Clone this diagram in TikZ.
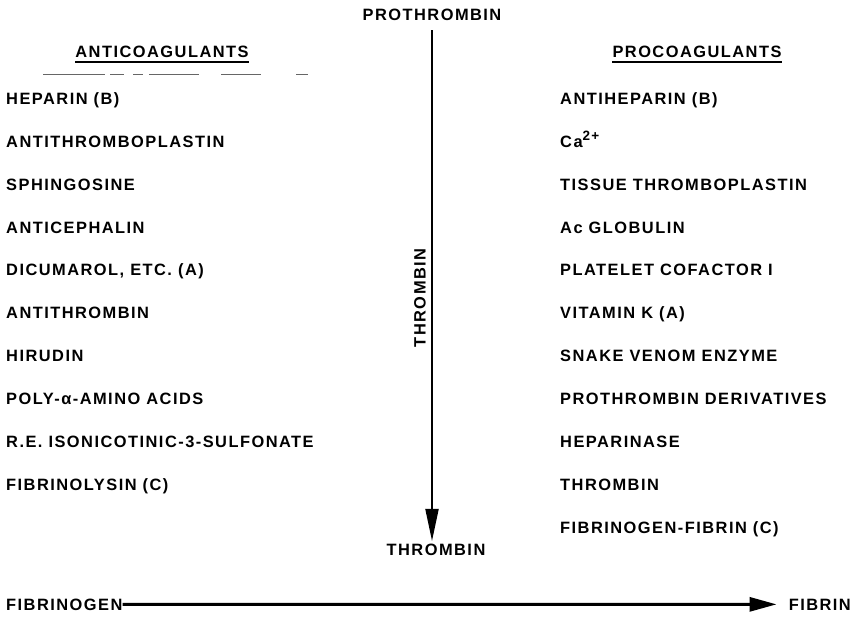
\documentclass[tikz,border=0pt]{standalone}
\usepackage{fontspec}
\usetikzlibrary{arrows.meta, positioning, calc}
\newfontfamily\letterface[LetterSpace=9]{Liberation Sans Bold}
\newcommand{\lettering}{\letterface\fontsize{16.4pt}{18pt}\selectfont}
\newcommand{\ionsup}[1]{\raisebox{6.5pt}{\fontsize{13.5pt}{13.5pt}\selectfont #1}}
\tikzset{
  agent/.style={anchor=base west, inner sep=0pt, font=\lettering},
  heading/.style={inner sep=0pt, font=\lettering},
  flowdown/.style={-{Triangle[length=32pt, width=13pt]}, line width=1.9pt},
  flowright/.style={-{Triangle[length=27pt, width=14pt]}, line width=3pt},
  underline/.style={line width=1.6pt},
}
\begin{document}
\begin{tikzpicture}[x=1pt, y=-1pt]
\useasboundingbox (0,0) rectangle (853,617);
% column headings
\node[heading] (antihd) at (162,52) {ANTICOAGULANTS};
\draw[underline] ([yshift=-4pt]antihd.south west) -- ([yshift=-4pt]antihd.south east);
\draw[black!60, line width=0.9pt, dash pattern=on 62pt off 5pt on 14pt off 9pt on 10pt off 6pt on 50pt off 22pt on 40pt off 35pt on 12pt]
  (43,74) -- (320,74);
\node[heading] (prohd) at (697,52) {PROCOAGULANTS};
\draw[underline] ([yshift=-4pt]prohd.south west) -- ([yshift=-4pt]prohd.south east);
% anticoagulants
\foreach \lbl [count=\i] in {HEPARIN (B), ANTITHROMBOPLASTIN, SPHINGOSINE, ANTICEPHALIN,
    {DICUMAROL, ETC.\ (A)}, ANTITHROMBIN, HIRUDIN, POLY-α-AMINO ACIDS,
    R.E.\ ISONICOTINIC-3-SULFONATE, FIBRINOLYSIN (C)}{
  \node[agent] (anti\i) at (6, 61.5+42.9*\i) {\lbl};
}
% procoagulants
\foreach \lbl [count=\i] in {ANTIHEPARIN (B), Ca\ionsup{2+}, TISSUE THROMBOPLASTIN, Ac GLOBULIN,
    PLATELET COFACTOR I, VITAMIN K (A), SNAKE VENOM ENZYME, PROTHROMBIN DERIVATIVES,
    HEPARINASE, THROMBIN, FIBRINOGEN-FIBRIN (C)}{
  \node[agent] (proc\i) at (560, 61.5+42.9*\i) {\lbl};
}
% prothrombin to thrombin
\node[heading] (prothr) at (432,15) {PROTHROMBIN};
\node[heading] (thr) at (436,550) {THROMBIN};
\draw[flowdown] ([yshift=-9pt]prothr.south) -- ([yshift=3pt]prothr.south |- thr.north);
\node[heading, rotate=90] (thrlbl) at (420,298) {THROMBIN};
% fibrinogen to fibrin
\node[agent] (fgen) at (6,610) {FIBRINOGEN};
\node[heading, anchor=base east] (fib) at (851,610) {FIBRIN};
\draw[flowright] (fgen.east) -- ([xshift=-12pt]fib.west);
\end{tikzpicture}
\end{document}
